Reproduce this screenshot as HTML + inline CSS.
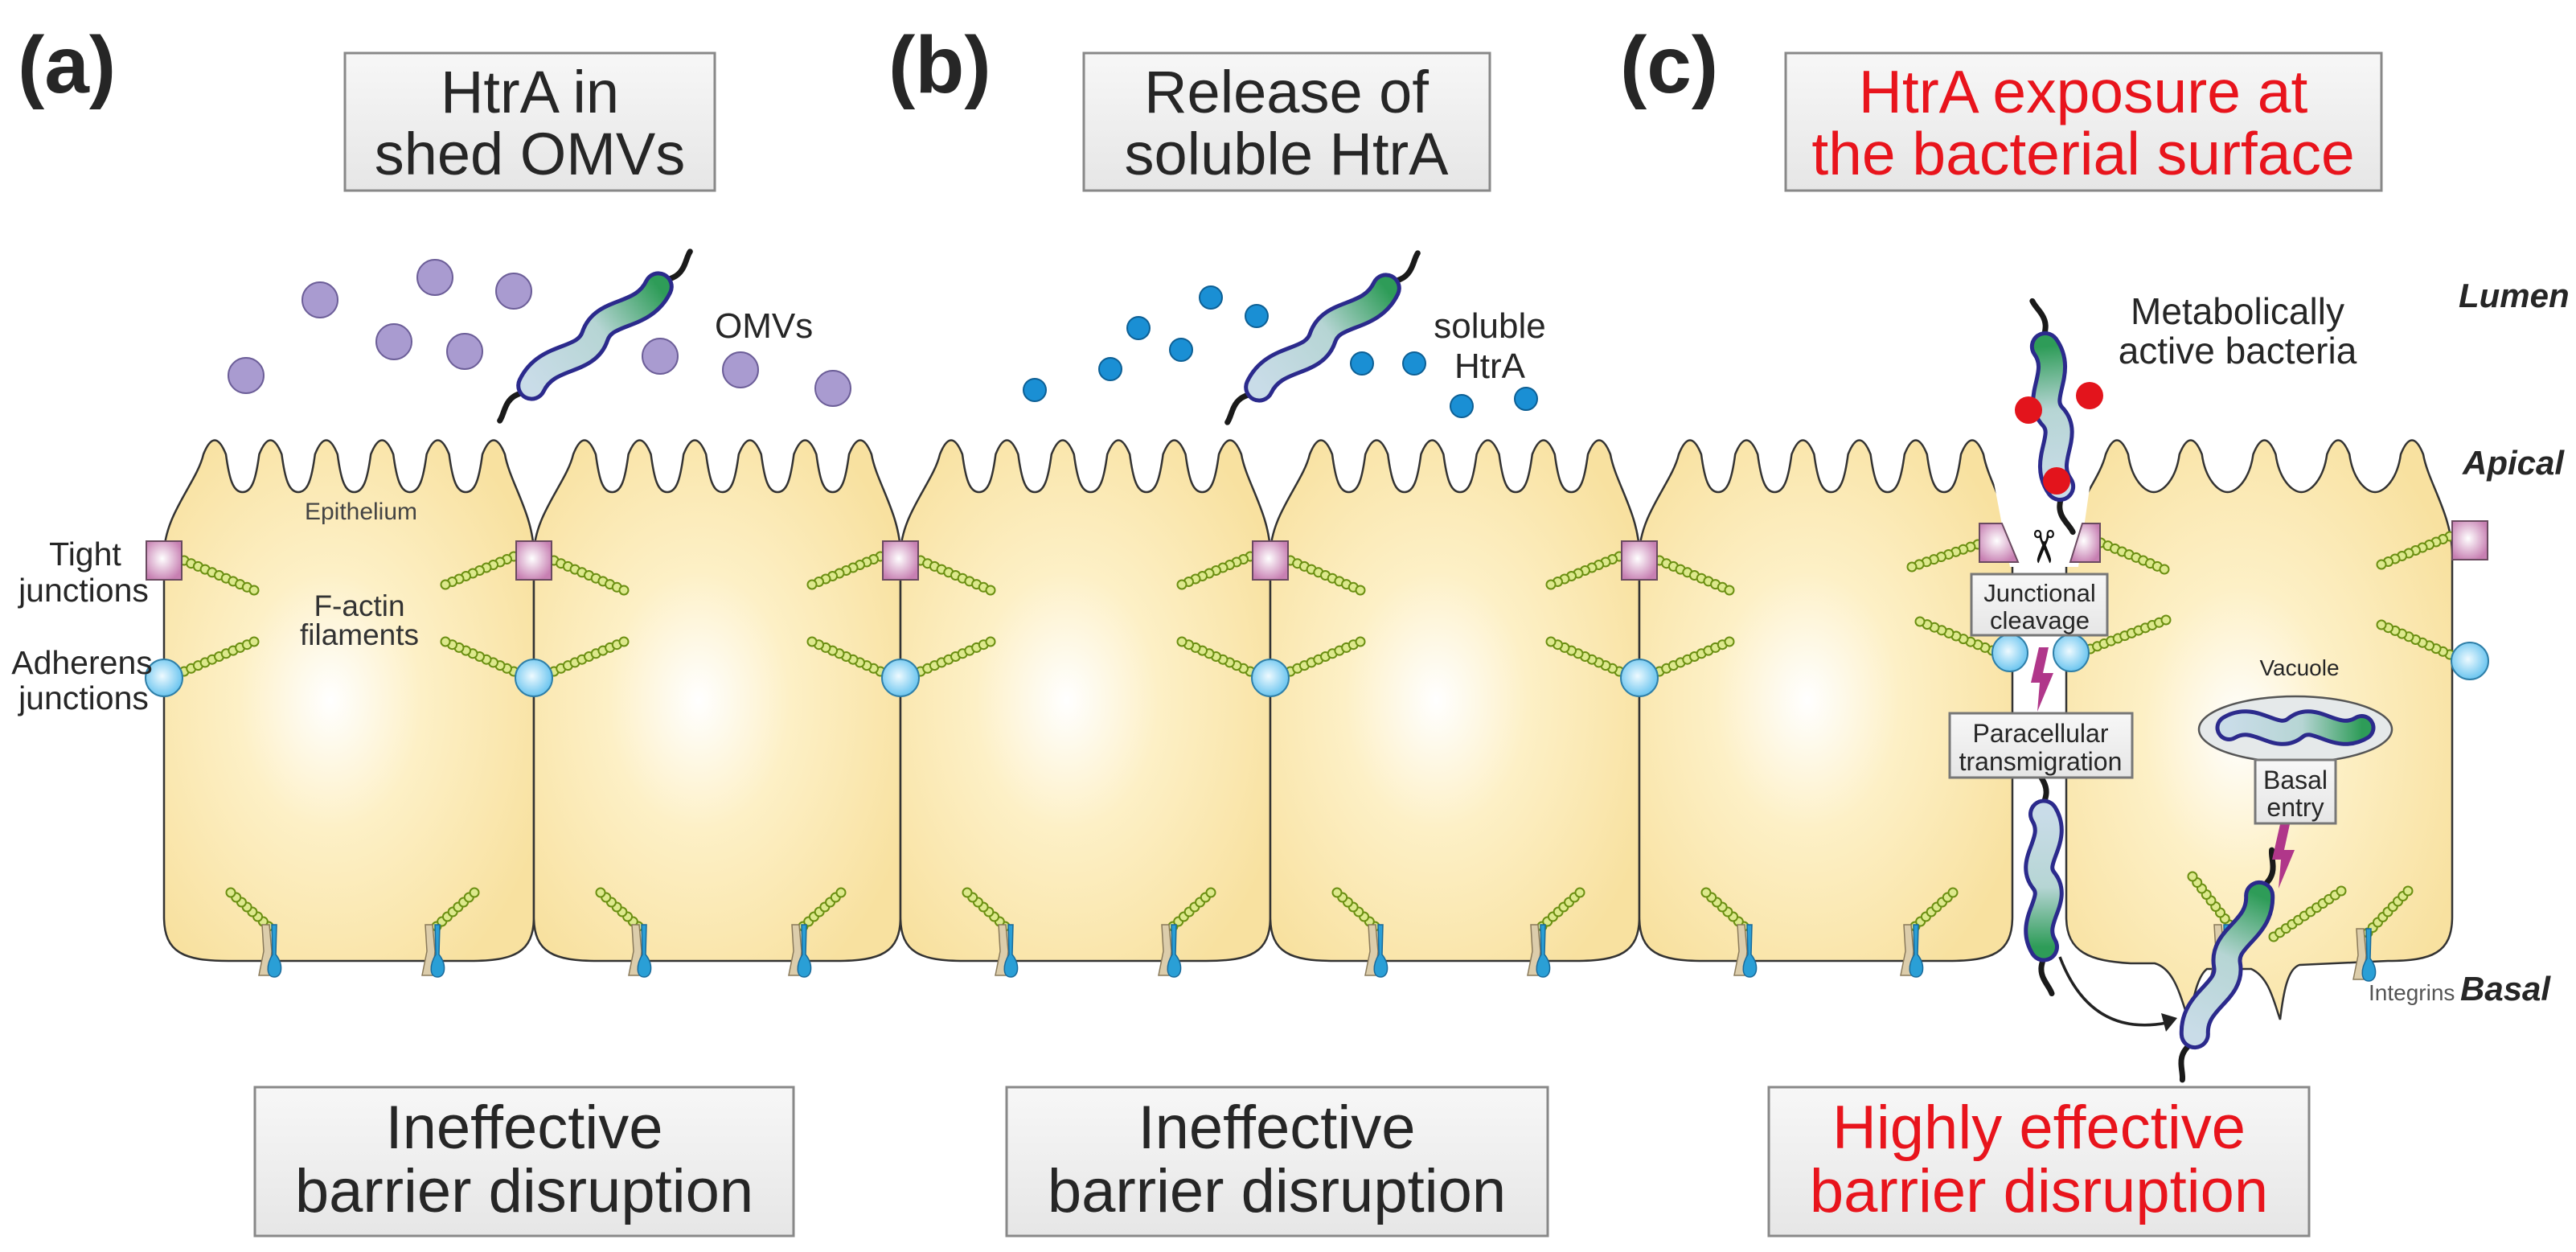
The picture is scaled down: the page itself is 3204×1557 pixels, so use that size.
<!DOCTYPE html>
<html><head><meta charset="utf-8">
<style>
html,body{margin:0;padding:0;background:#fff;}
svg{display:block;}
text{font-family:"Liberation Sans",sans-serif;fill:#262626;}
</style></head>
<body>
<svg id="s" width="3204" height="1557" viewBox="0 0 3204 1557" xmlns="http://www.w3.org/2000/svg">
<defs>
<radialGradient id="cellg" cx="0.45" cy="0.5" r="0.62">
<stop offset="0" stop-color="#ffffff"/><stop offset="0.4" stop-color="#fdf0c6"/><stop offset="1" stop-color="#f8e1a0"/>
</radialGradient>
<radialGradient id="tjg" cx="0.45" cy="0.45" r="0.6">
<stop offset="0" stop-color="#ffffff"/><stop offset="1" stop-color="#c77fb2"/>
</radialGradient>
<radialGradient id="ajg" cx="0.45" cy="0.45" r="0.6">
<stop offset="0" stop-color="#eefaff"/><stop offset="1" stop-color="#5fc0ee"/>
</radialGradient>
<linearGradient id="boxg" x1="0" y1="0" x2="0" y2="1">
<stop offset="0" stop-color="#f7f7f7"/><stop offset="1" stop-color="#e6e6e6"/>
</linearGradient>
<linearGradient id="bacg" x1="0" y1="0" x2="1" y2="0">
<stop offset="0" stop-color="#c9dce8"/><stop offset="0.55" stop-color="#b6d5d4"/><stop offset="1" stop-color="#2e9c58"/>
</linearGradient>
</defs>
<g id="cells"></g>
<g id="deco"></g>

<text x="22" y="115" font-size="100" font-weight="bold">(a)</text>
<text x="1105" y="115" font-size="100" font-weight="bold">(b)</text>
<text x="2015" y="115" font-size="100" font-weight="bold">(c)</text>

<rect x="429" y="66" width="460" height="171" fill="url(#boxg)" stroke="#888" stroke-width="3"/>
<text x="659" y="140" font-size="74" text-anchor="middle">HtrA in</text>
<text x="659" y="217" font-size="74" text-anchor="middle">shed OMVs</text>
<rect x="1348" y="66" width="505" height="171" fill="url(#boxg)" stroke="#888" stroke-width="3"/>
<text x="1600" y="140" font-size="74" text-anchor="middle">Release of</text>
<text x="1600" y="217" font-size="74" text-anchor="middle">soluble HtrA</text>
<rect x="2221" y="66" width="741" height="171" fill="url(#boxg)" stroke="#888" stroke-width="3"/>
<text x="2591" y="140" font-size="75" text-anchor="middle" style="fill:#e8141c">HtrA exposure at</text>
<text x="2591" y="217" font-size="75" text-anchor="middle" style="fill:#e8141c">the bacterial surface</text>

<rect x="317" y="1352" width="670" height="185" fill="url(#boxg)" stroke="#888" stroke-width="3"/>
<text x="652" y="1428" font-size="76" text-anchor="middle">Ineffective</text>
<text x="652" y="1507" font-size="76" text-anchor="middle">barrier disruption</text>
<rect x="1252" y="1352" width="673" height="185" fill="url(#boxg)" stroke="#888" stroke-width="3"/>
<text x="1588" y="1428" font-size="76" text-anchor="middle">Ineffective</text>
<text x="1588" y="1507" font-size="76" text-anchor="middle">barrier disruption</text>
<rect x="2200" y="1352" width="672" height="185" fill="url(#boxg)" stroke="#888" stroke-width="3"/>
<text x="2536" y="1428" font-size="76" text-anchor="middle" style="fill:#e8141c">Highly effective</text>
<text x="2536" y="1507" font-size="76" text-anchor="middle" style="fill:#e8141c">barrier disruption</text>

<text x="3058" y="382" font-size="42" font-weight="bold" font-style="italic">Lumen</text>
<text x="3063" y="590" font-size="42" font-weight="bold" font-style="italic">Apical</text>
<text x="3060" y="1244" font-size="42" font-weight="bold" font-style="italic">Basal</text>

<text x="106" y="703" font-size="41" text-anchor="middle">Tight</text>
<text x="104" y="748" font-size="41" text-anchor="middle">junctions</text>
<text x="102" y="838" font-size="41" text-anchor="middle">Adherens</text>
<text x="104" y="882" font-size="41" text-anchor="middle">junctions</text>
<text x="449" y="646" font-size="30" text-anchor="middle" style="fill:#444">Epithelium</text>
<text x="447" y="766" font-size="37" text-anchor="middle" style="fill:#333">F-actin</text>
<text x="447" y="802" font-size="37" text-anchor="middle" style="fill:#333">filaments</text>

<text x="889" y="420" font-size="44">OMVs</text>
<text x="1853" y="420" font-size="44" text-anchor="middle">soluble</text>
<text x="1853" y="470" font-size="44" text-anchor="middle">HtrA</text>
<text x="2783" y="403" font-size="46" text-anchor="middle">Metabolically</text>
<text x="2783" y="452" font-size="46" text-anchor="middle">active bacteria</text>

<g id="top"></g>

<rect x="2452" y="714" width="169" height="76" fill="url(#boxg)" stroke="#777" stroke-width="3"/>
<text x="2537" y="748" font-size="31" text-anchor="middle">Junctional</text>
<text x="2537" y="782" font-size="31" text-anchor="middle">cleavage</text>
<rect x="2425" y="887" width="227" height="80" fill="url(#boxg)" stroke="#777" stroke-width="3"/>
<text x="2538" y="923" font-size="32" text-anchor="middle">Paracellular</text>
<text x="2538" y="958" font-size="32" text-anchor="middle">transmigration</text>
<rect x="2805" y="945" width="100" height="79" fill="url(#boxg)" stroke="#777" stroke-width="3"/>
<text x="2855" y="981" font-size="32" text-anchor="middle">Basal</text>
<text x="2855" y="1015" font-size="32" text-anchor="middle">entry</text>
<text x="2860" y="840" font-size="28" text-anchor="middle">Vacuole</text>
<text x="2946" y="1244" font-size="28" style="fill:#555">Integrins</text>
<text x="2540" y="698" font-size="56" text-anchor="middle" transform="rotate(90 2540 680)" style="fill:#111">✂</text>
</svg>
<script>
var NS="http://www.w3.org/2000/svg";
function el(par,tag,at){var e=document.createElementNS(NS,tag);for(var k in at)e.setAttribute(k,at[k]);document.getElementById(par).appendChild(e);return e;}
function cellPath(x0,x1,n,bottom){
  var w=x1-x0,t=[],s=(w-113)/(n-1);
  for(var k=0;k<n;k++)t.push(x0+63+k*s);
  var d="M"+x0+",1140 L"+x0+",690 C"+x0+",640 "+(t[0]-22)+",600 "+(t[0]-14)+",565 Q"+t[0]+",530 "+(t[0]+14)+",565";
  for(var k=1;k<n;k++){var m=(t[k-1]+t[k])/2;
    d+=" C"+(t[k-1]+18)+",595 "+(m-12)+",612 "+m+",612 C"+(m+12)+",612 "+(t[k]-18)+",595 "+(t[k]-14)+",565 Q"+t[k]+",530 "+(t[k]+14)+",565";}
  var tl=t[n-1];
  d+=" C"+(tl+20)+",600 "+x1+",640 "+x1+",690 L"+x1+",1140 C"+x1+",1185 "+(x1-25)+",1195 "+(x1-80)+",1195 ";
  if(bottom)d+=bottom;else d+="L"+(x0+80)+",1195 C"+(x0+25)+",1195 "+x0+",1185 "+x0+",1140 Z";
  return d;
}
var cells=[[204,664],[664,1120],[1120,1580],[1580,2039],[2039,2503]];
cells.forEach(function(c){el("cells","path",{d:cellPath(c[0],c[1],6),fill:"url(#cellg)",stroke:"#333","stroke-width":2.5});});
el("cells","path",{d:cellPath(2570,3050,5,"L2860,1200 C2845,1205 2840,1235 2836,1268 C2828,1245 2822,1215 2800,1205 L2745,1205 C2732,1215 2728,1245 2722,1268 C2712,1240 2705,1205 2680,1198 L2650,1198 C2600,1195 2570,1185 2570,1140 Z"),fill:"url(#cellg)",stroke:"#333","stroke-width":2.5});
el("cells","path",{d:"M2480,600 L2600,600 L2585,705 L2500,705 Z",fill:"#fff"});

function chain(x1,y1,x2,y2){var dx=x2-x1,dy=y2-y1,L=Math.sqrt(dx*dx+dy*dy),n=Math.round(L/9.5);
  for(var i=0;i<=n;i++){el("deco","circle",{cx:x1+dx*i/n,cy:y1+dy*i/n,r:5.5,fill:"#dde98c",stroke:"#6b8f12","stroke-width":2});}}
function integ(x,y){
  el("deco","path",{d:"M"+(x-11)+","+(y-45)+" L"+(x-2)+","+(y-45)+" L"+(x+1)+","+(y-12)+" L"+(x-2)+","+(y+18)+" L"+(x-15)+","+(y+18)+" L"+(x-9)+","+(y-12)+" Z",fill:"#dccdab",stroke:"#8a7a5a","stroke-width":1.5});
  el("deco","path",{d:"M"+(x+1)+","+(y-45)+" L"+(x+7)+","+(y-45)+" L"+(x+6)+","+(y-8)+" C"+(x+16)+","+(y+5)+" "+(x+14)+","+(y+20)+" "+(x+4)+","+(y+20)+" C"+(x-6)+","+(y+20)+" "+(x-6)+","+(y+5)+" "+(x+2)+","+(y-8)+" Z",fill:"#2a9fd6",stroke:"#1a6a9a","stroke-width":1.5});
}
[204,664,1120,1580,2039,3072].forEach(function(x){
  var ty=x==3072?672:697, ay=x==3072?822:843;
  if(x!=204){chain(x-25,ty-5,x-110,ty+30);chain(x-25,ay-8,x-110,ay-45);}
  if(x!=3072){chain(x+25,ty,x+112,ty+37);chain(x+25,ay-8,x+112,ay-45);}
});
chain(2460,677,2378,705);chain(2613,675,2692,708);chain(2478,809,2388,773);chain(2600,807,2694,771);
cells.forEach(function(c){var a=c[0]+133,b=c[1]-124;chain(a-3,1152,a-50,1110);chain(b+3,1152,b+50,1110);});
chain(2773,1150,2727,1090);chain(2828,1165,2912,1108);chain(2945,1160,2995,1108);
cells.forEach(function(c){integ(c[0]+133,1195);integ(c[1]-124,1195);});
integ(2942,1200);integ(2765,1195);
[204,664,1120,1580,2039,3072].forEach(function(x){
  var ty=x==3072?672:697, ay=x==3072?822:843;
  el("deco","rect",{x:x-22,y:ty-24,width:44,height:48,fill:"url(#tjg)",stroke:"#6a4a60","stroke-width":2});
  el("deco","circle",{cx:x,cy:ay,r:23,fill:"url(#ajg)",stroke:"#2f7fa8","stroke-width":2});
});
el("deco","path",{d:"M2462,651 L2490,651 L2510,699 L2462,699 Z",fill:"url(#tjg)",stroke:"#6a4a60","stroke-width":2});
el("deco","path",{d:"M2590,651 L2612,651 L2612,699 L2575,699 Z",fill:"url(#tjg)",stroke:"#6a4a60","stroke-width":2});
el("deco","ellipse",{cx:2500,cy:812,rx:22,ry:23,fill:"url(#ajg)",stroke:"#2f7fa8","stroke-width":2});
el("deco","ellipse",{cx:2576,cy:812,rx:22,ry:23,fill:"url(#ajg)",stroke:"#2f7fa8","stroke-width":2});
el("deco","ellipse",{cx:2855,cy:907,rx:120,ry:41,fill:"#e5e9ea",stroke:"#555","stroke-width":2.5});

[[398,373],[541,345],[639,362],[490,425],[578,437],[306,467],[821,443],[921,460],[1036,483]].forEach(function(p){
  el("top","circle",{cx:p[0],cy:p[1],r:22,fill:"#a99bd0",stroke:"#6c5e98","stroke-width":2});});
[[1506,370],[1563,393],[1416,408],[1469,435],[1381,459],[1287,485],[1694,452],[1759,452],[1818,505],[1898,496]].forEach(function(p){
  el("top","circle",{cx:p[0],cy:p[1],r:14,fill:"#1a8fd4",stroke:"#0d5f94","stroke-width":2});});

function bact(cx,cy,ang,len,fl,w){
  w=w||38;var h=len/2;
  var g=el("top","g",{transform:"translate("+cx+","+cy+") rotate("+ang+")"});
  var body="M"+(-h)+",0 C"+(-0.6*h)+",-20 "+(-0.3*h)+",20 0,0 C"+(0.3*h)+",-20 "+(0.6*h)+",20 "+h+",0";
  function add(tag,at){var e=document.createElementNS(NS,tag);for(var k in at)e.setAttribute(k,at[k]);g.appendChild(e);}
  if(fl){
    add("path",{d:"M"+(h-5)+",0 c15,-8 25,10 45,0 c8,-4 12,-8 18,-10",fill:"none",stroke:"#1a1a1a","stroke-width":7,"stroke-linecap":"round"});
    add("path",{d:"M"+(-h+5)+",0 c-15,8 -25,-10 -45,0 c-8,4 -12,8 -18,10",fill:"none",stroke:"#1a1a1a","stroke-width":7,"stroke-linecap":"round"});
  }
  add("path",{d:body,fill:"none",stroke:"#2b2a8c","stroke-width":w,"stroke-linecap":"round"});
  add("path",{d:body,fill:"none",stroke:"url(#bacg)","stroke-width":w-10,"stroke-linecap":"round"});
}
bact(740,418,-38,200,true);
bact(1645,420,-38,200,true);
bact(2553,518,-96,175,true);
bact(2542,1095,90,165,true);
bact(2770,1200,-65,190,true);
bact(2855,905,0,165,false,34);
[[2523,510],[2599,492],[2558,598]].forEach(function(p){el("top","circle",{cx:p[0],cy:p[1],r:17,fill:"#e3141c"});});
function bolt(x,y){el("top","path",{d:"M"+(x-4)+","+(y-40)+" L"+(x+8)+","+(y-40)+" L"+(x+1)+","+(y-8)+" L"+(x+14)+","+(y-8)+" L"+(x-6)+","+(y+40)+" L"+(x-3)+","+(y+4)+" L"+(x-14)+","+(y+4)+" Z",fill:"#b0378a"});}
bolt(2540,845);bolt(2840,1065);
el("top","path",{d:"M2562,1190 Q2600,1290 2695,1272",fill:"none",stroke:"#222","stroke-width":3.5});
el("top","path",{d:"M2708,1266 L2688,1260 L2694,1283 Z",fill:"#222"});
</script>
</body></html>
